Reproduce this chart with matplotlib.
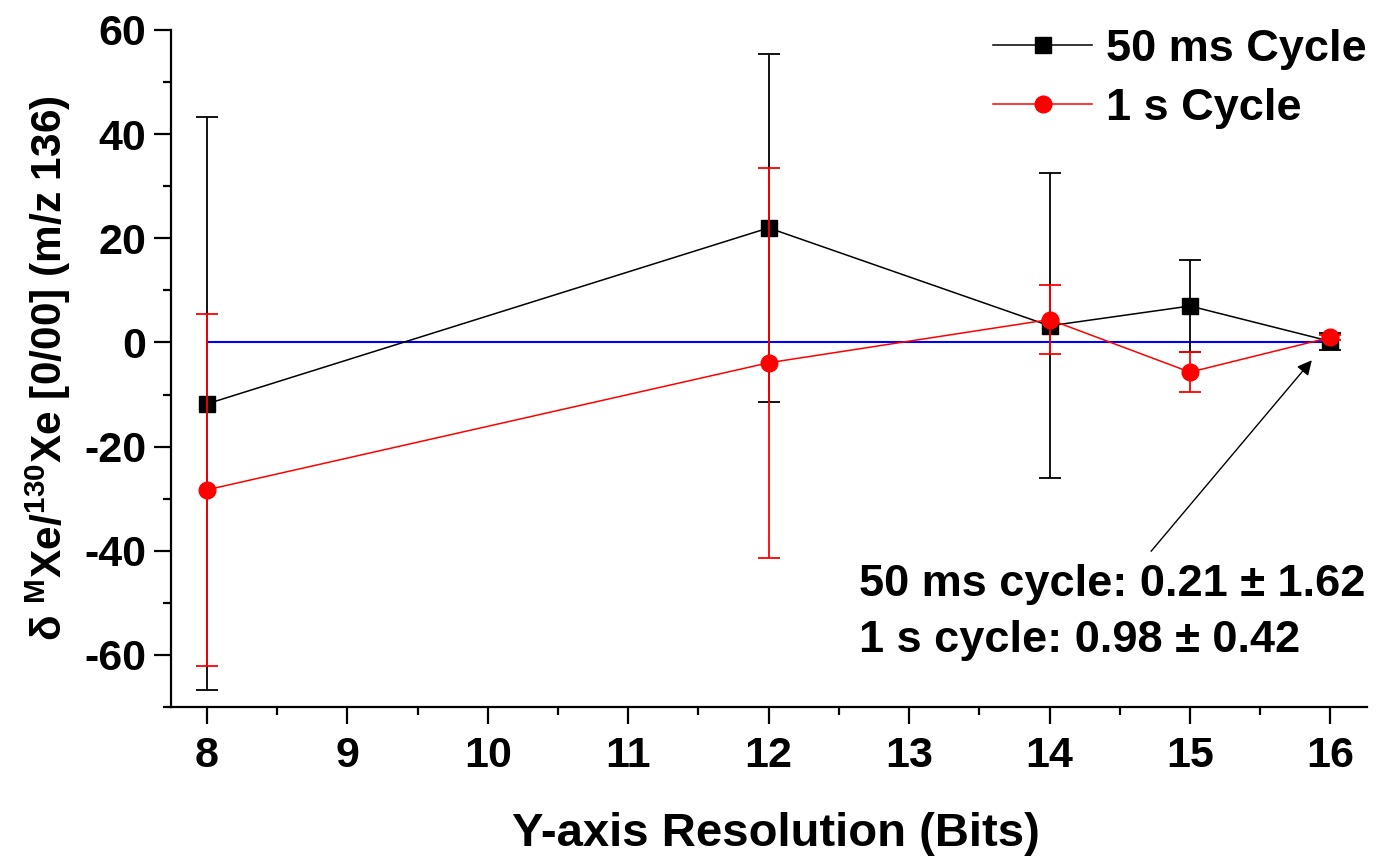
#!/usr/bin/env python3
"""
Delta MXe/130Xe versus Y-axis resolution for two cycle times.
"""

import matplotlib

matplotlib.use("Agg")

import matplotlib.pyplot as plt
from matplotlib.lines import Line2D
from matplotlib.ticker import MultipleLocator


plt.rcParams.update(
    {
        "font.family": ["Liberation Sans", "DejaVu Sans"],
        "font.weight": "bold",
        "axes.unicode_minus": False,
        "mathtext.fontset": "custom",
        "mathtext.rm": "Liberation Sans:bold",
        "mathtext.bf": "Liberation Sans:bold",
        "mathtext.default": "bf",
    }
)

# bits of Y-axis resolution
bits = [8, 12, 14, 15, 16]

# 50 ms cycle
fast_delta = [-11.8, 22.0, 3.2, 7.0, 0.21]
fast_err = [55.0, 33.4, 29.3, 8.9, 1.62]

# 1 s cycle
slow_delta = [-28.3, -3.9, 4.4, -5.7, 0.98]
slow_err = [33.8, 37.4, 6.7, 3.9, 0.42]

x_ticks = [8, 9, 10, 11, 12, 13, 14, 15, 16]
y_ticks = [-60, -40, -20, 0, 20, 40, 60]

TICK_FS = 31
TEXT_FS = 32.5

fig = plt.figure(figsize=(13.86, 8.57), dpi=100, facecolor="white")
ax = fig.add_axes([0.1234, 0.175, 0.8629, 0.79])

ax.plot([bits[0], bits[-1]], [0, 0], color="#0000ff", linewidth=1.5, zorder=1)

ax.errorbar(
    bits, fast_delta, yerr=fast_err,
    color="black", marker="s", markersize=12, linewidth=1.1,
    elinewidth=1.3, capsize=8, capthick=1.3, zorder=3,
)
ax.errorbar(
    bits, slow_delta, yerr=slow_err,
    color="#ff0000", marker="o", markersize=12, linewidth=1.1,
    elinewidth=1.3, capsize=8, capthick=1.3, zorder=4,
)

ax.set_xlim(7.745, 16.26)
ax.set_ylim(-70, 60)
ax.set_xticks(x_ticks)
ax.set_yticks(y_ticks)
ax.xaxis.set_minor_locator(MultipleLocator(0.5))
ax.yaxis.set_minor_locator(MultipleLocator(10))

for side in ("top", "right"):
    ax.spines[side].set_visible(False)
for side in ("left", "bottom"):
    ax.spines[side].set_linewidth(1.6)

ax.tick_params(which="major", direction="out", length=12, width=1.6, labelsize=TICK_FS)
ax.tick_params(axis="x", which="major", pad=9)
ax.tick_params(axis="y", which="major", pad=6)
ax.tick_params(which="minor", direction="out", length=6, width=1.6)
for lbl in ax.get_xticklabels() + ax.get_yticklabels():
    lbl.set_fontweight("bold")

ax.set_xlabel("Y-axis Resolution (Bits)", fontsize=34, fontweight="bold", labelpad=20)
ax.xaxis.set_label_coords(0.506, -0.155)
ax.set_ylabel(
    r"δ $^{M}$Xe/$^{130}$Xe [0/00] (m/z 136)",
    fontsize=30.5, fontweight="bold", labelpad=8,
)

# legend shows plain line + marker, no error bars
handles = [
    Line2D([], [], color="black", marker="s", markersize=12, linewidth=1.1),
    Line2D([], [], color="#ff0000", marker="o", markersize=12, linewidth=1.1),
]
ax.legend(
    handles, ["50 ms Cycle", "1 s Cycle"],
    loc="upper right", bbox_to_anchor=(1.0, 1.002), frameon=False, fontsize=TEXT_FS,
    handlelength=2.2, handletextpad=0.31, labelspacing=0.4,
    borderpad=0, borderaxespad=0,
)

ax.annotate(
    "", xy=(15.88, -3.0), xytext=(14.71, -40.5),
    arrowprops=dict(arrowstyle="-|>", color="black", linewidth=1.0, mutation_scale=22),
)
ax.text(12.64, -46.5, "50 ms cycle: 0.21 ± 1.62", fontsize=TEXT_FS, fontweight="bold", va="center", ha="left")
ax.text(12.64, -57.3, "1 s cycle: 0.98 ± 0.42", fontsize=TEXT_FS, fontweight="bold", va="center", ha="left")

fig.savefig("out.png", dpi=100, facecolor="white")
